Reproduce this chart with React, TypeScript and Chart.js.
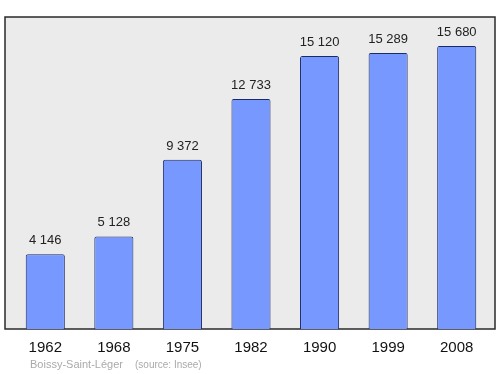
import React, { useEffect, useRef } from "react";
import { Chart, registerables } from "chart.js";

Chart.register(...registerables);

const years = ["1962", "1968", "1975", "1982", "1990", "1999", "2008"];
const population = [4146, 5128, 9372, 12733, 15120, 15289, 15680];
const footerPlace = "Boissy-Saint-Léger";
const footerSource = "(source: Insee)";

const FONT = "'Liberation Sans', Arial, sans-serif";

function fmt(n: number): string {
  return String(n).replace(/\B(?=(\d{3})+(?!\d))/g, " ");
}

const framePlugin = {
  id: "frame",
  beforeDraw(chart: any) {
    const { ctx, chartArea } = chart;
    const x0 = chartArea.left - 6;
    const x1 = chartArea.right + 4;
    ctx.save();
    ctx.fillStyle = "#ebebeb";
    ctx.fillRect(x0, chartArea.top, x1 - x0, chartArea.bottom - chartArea.top);
    ctx.strokeStyle = "#2a2a2a";
    ctx.lineWidth = 1.5;
    ctx.strokeRect(x0, chartArea.top, x1 - x0, chartArea.bottom - chartArea.top);
    ctx.restore();
  },
  afterDraw(chart: any) {
    const { ctx } = chart;
    ctx.save();
    ctx.fillStyle = "#aaaaaa";
    ctx.textBaseline = "alphabetic";
    ctx.textAlign = "left";
    ctx.font = `11px ${FONT}`;
    ctx.fillText(footerPlace, 30, 368);
    ctx.font = `10px ${FONT}`;
    ctx.fillText(footerSource, 135, 368);
    ctx.restore();
  },
};

const labelPlugin = {
  id: "valueLabels",
  afterDatasetsDraw(chart: any) {
    const { ctx } = chart;
    const meta = chart.getDatasetMeta(0);
    ctx.save();
    ctx.fillStyle = "#222222";
    ctx.font = `13px ${FONT}`;
    ctx.textAlign = "center";
    ctx.textBaseline = "alphabetic";
    meta.data.forEach((bar: any, i: number) => {
      ctx.fillText(fmt(population[i]), bar.x, bar.y - 10);
    });
    ctx.restore();
  },
};

export default function App() {
  const ref = useRef<HTMLCanvasElement>(null);
  useEffect(() => {
    if (!ref.current) return;
    const chart = new Chart(ref.current, {
      type: "bar",
      data: {
        labels: years,
        datasets: [
          {
            data: population,
            backgroundColor: "#7799ff",
            borderColor: "#1c2a66",
            borderWidth: 1,
            borderRadius: 2,
            borderSkipped: "bottom",
            categoryPercentage: 1,
            barPercentage: 0.57,
          },
        ],
      },
      options: {
        responsive: false,
        animation: false,
        layout: { padding: { left: 11, right: 9, top: 17, bottom: 0 } },
        plugins: { legend: { display: false }, tooltip: { enabled: false } },
        scales: {
          x: {
            grid: { display: false, drawTicks: false },
            border: { display: false },
            ticks: { color: "#111111", font: { family: FONT, size: 15 }, padding: 10 },
            afterFit(scale: any) {
              scale.height = 45;
            },
          },
          y: {
            display: false,
            min: 0,
            max: 17280,
          },
        },
      },
      plugins: [framePlugin, labelPlugin],
    });
    return () => chart.destroy();
  }, []);
  return (
    <div style={{ position: "fixed", left: 0, top: 0, width: 500, height: 374, background: "#ffffff" }}>
      <canvas ref={ref} width={500} height={374} style={{ width: 500, height: 374, display: "block" }} />
    </div>
  );
}
